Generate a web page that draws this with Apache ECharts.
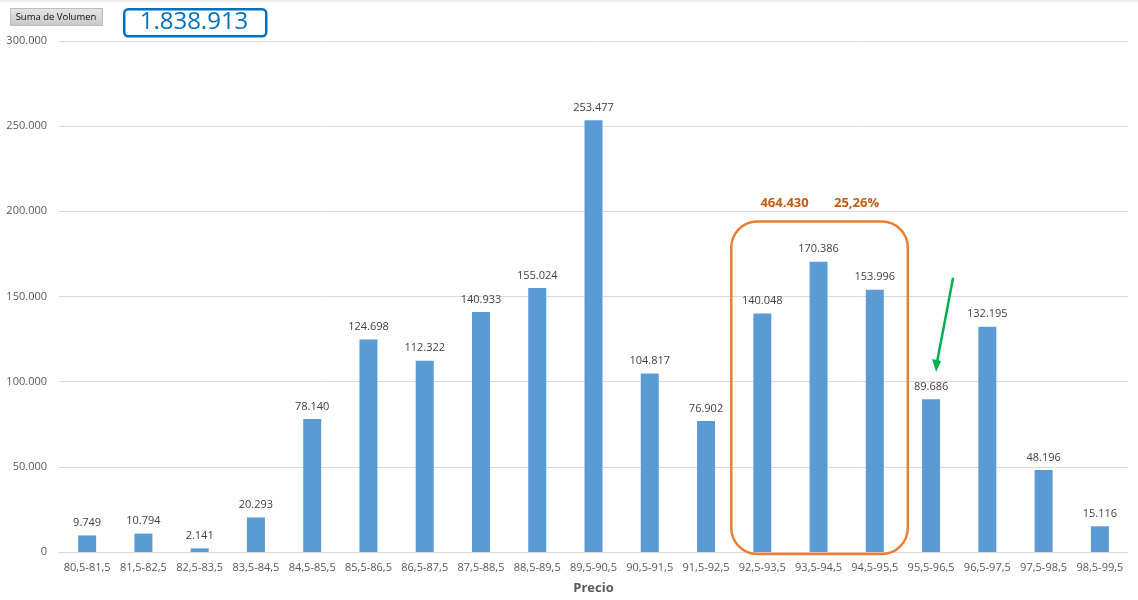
<!DOCTYPE html>
<html>
<head>
<meta charset="utf-8">
<style>
	html, body { margin: 0; padding: 0; background: #fff; }
	#chart { width: 1138px; height: 600px; }
</style>
<script src="https://cdn.jsdelivr.net/npm/echarts@6/dist/echarts.min.js"></script>
</head>
<body>
<div id="chart"></div>
<script>
// datos
var categorias = ['80,5-81,5','81,5-82,5','82,5-83,5','83,5-84,5','84,5-85,5','85,5-86,5','86,5-87,5',
	'87,5-88,5','88,5-89,5','89,5-90,5','90,5-91,5','91,5-92,5','92,5-93,5','93,5-94,5','94,5-95,5',
	'95,5-96,5','96,5-97,5','97,5-98,5','98,5-99,5'];
var volumen = [9749, 10794, 2141, 20293, 78140, 124698, 112322, 140933, 155024, 253477,
	104817, 76902, 140048, 170386, 153996, 89686, 132195, 48196, 15116];
var totalTexto = '1.838.913';
var grupoTexto = '464.430';
var grupoPct = '25,26%';

var fmt = function (v) {
	return String(v).replace(/\B(?=(\d{3})+(?!\d))/g, '.');
};

var chart = echarts.init(document.getElementById('chart'));
var option = {
	animation: false,
	textStyle: { fontFamily: 'Open Sans, Segoe UI, sans-serif' },
	grid: { left: 59, right: 10, top: 41, bottom: 48 },
	xAxis: {
		type: 'category',
		data: categorias,
		name: 'Precio',
		nameLocation: 'middle',
		nameGap: 30,
		nameTextStyle: { fontSize: 13, fontWeight: 'bold', color: '#595959' },
		axisLine: { lineStyle: { color: '#d9d9d9' } },
		axisTick: { show: false },
		axisLabel: { color: '#595959', fontSize: 11, margin: 10, interval: 0 }
	},
	yAxis: {
		type: 'value',
		min: 0,
		max: 300000,
		interval: 50000,
		axisLabel: { color: '#595959', fontSize: 11, margin: 12, formatter: fmt },
		splitLine: { lineStyle: { color: '#d9d9d9' } }
	},
	series: [{
		type: 'bar',
		data: volumen,
		barWidth: 18,
		itemStyle: { color: '#5B9BD5' },
		label: {
			show: true,
			position: 'top',
			distance: 7,
			color: '#404040',
			fontSize: 11,
			formatter: function (p) { return fmt(p.value); }
		}
	}]
};
chart.setOption(option);

// anotaciones posicionadas con la escala del grafico
var pIzq = chart.convertToPixel({ xAxisIndex: 0, yAxisIndex: 0 }, [12, 194000]);
var pDer = chart.convertToPixel({ xAxisIndex: 0, yAxisIndex: 0 }, [14, 0]);
var pFlechaA = chart.convertToPixel({ xAxisIndex: 0, yAxisIndex: 0 }, [15, 161000]);
var pFlechaB = chart.convertToPixel({ xAxisIndex: 0, yAxisIndex: 0 }, [15, 108000]);
var pTitulo = chart.convertToPixel({ xAxisIndex: 0, yAxisIndex: 0 }, [13, 205000]);

chart.setOption({
	graphic: [
		{ type: 'line', z: 100, shape: { x1: 0, y1: 1, x2: 1138, y2: 1 }, style: { stroke: '#d9d9d9', lineWidth: 1 } },
		{
			type: 'rect', left: 10, top: 8, z: 100,
			shape: { width: 92, height: 17 },
			style: {
				fill: new echarts.graphic.LinearGradient(0, 0, 0, 1, [
					{ offset: 0, color: '#e6e6e6' }, { offset: 1, color: '#c8c8c8' }
				]),
				stroke: '#bdbdbd', lineWidth: 1
			}
		},
		{
			type: 'text', x: 56, y: 17, z: 101,
			style: { text: 'Suma de Volumen', fill: '#111', font: '9.5px "Open Sans", sans-serif', align: 'center', verticalAlign: 'middle' }
		},
		{
			type: 'rect', left: 123, top: 8, z: 100,
			shape: { width: 142, height: 27, r: 4 },
			style: { fill: '#fff', stroke: '#0070C0', lineWidth: 2.5 }
		},
		{
			type: 'text', x: 194, y: 22, z: 101,
			style: { text: totalTexto, fill: '#0070C0', font: '24px "Open Sans", sans-serif', align: 'center', verticalAlign: 'middle' }
		},
		{
			type: 'rect', z: 100,
			shape: { x: pIzq[0] - 31, y: pIzq[1], width: pDer[0] - pIzq[0] + 64, height: pDer[1] - pIzq[1] + 2, r: 26 },
			style: { fill: 'none', stroke: '#ED7D31', lineWidth: 2.5 }
		},
		{
			type: 'text', x: pTitulo[0] - 34, y: pTitulo[1], z: 100,
			style: { text: grupoTexto, fill: '#C55A11', font: 'bold 13px "Open Sans", sans-serif', align: 'center', verticalAlign: 'middle' }
		},
		{
			type: 'text', x: pTitulo[0] + 38, y: pTitulo[1], z: 100,
			style: { text: grupoPct, fill: '#C55A11', font: 'bold 13px "Open Sans", sans-serif', align: 'center', verticalAlign: 'middle' }
		},
		{
			type: 'line', z: 100,
			shape: { x1: pFlechaA[0] + 22, y1: pFlechaA[1], x2: pFlechaB[0] + 6, y2: pFlechaB[1] - 6 },
			style: { stroke: '#00B050', lineWidth: 2.5 }
		},
		{
			type: 'polygon', z: 100,
			shape: { points: [[pFlechaB[0] + 5, pFlechaB[1] + 4], [pFlechaB[0] + 1, pFlechaB[1] - 9], [pFlechaB[0] + 10, pFlechaB[1] - 7]] },
			style: { fill: '#00B050' }
		}
	]
});
</script>
</body>
</html>
